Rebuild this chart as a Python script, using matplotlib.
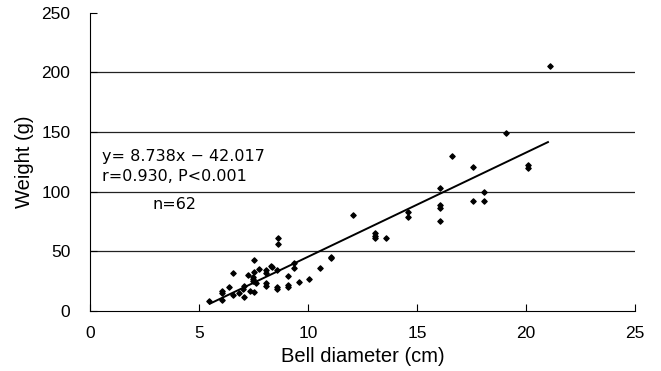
import numpy as np
from matplotlib import pyplot as plt

# bell diameter (cm) and weight (g)
diameter = [5.46, 6.06, 6.06, 6.06, 6.36, 6.55, 6.55, 6.82, 7.0, 7.05, 7.05,
            7.26, 7.35, 7.46, 7.46, 7.5, 7.54, 7.54, 7.54, 7.6, 7.77,
            8.07, 8.07, 8.07, 8.07, 8.3, 8.35, 8.58, 8.58, 8.58, 8.61, 8.61,
            9.07, 9.07, 9.07, 9.37, 9.37, 9.57, 10.06, 10.56, 11.06, 11.06,
            12.08, 13.07, 13.07, 13.07, 13.58, 14.57, 14.57,
            16.07, 16.07, 16.07, 16.07, 16.59, 17.58, 17.58, 18.06, 18.09,
            19.08, 20.08, 20.08, 21.1]
weight = [8, 9, 17, 15, 20, 32, 13, 15, 18, 21, 12,
          30, 17, 25, 27, 28, 43, 33, 16, 23, 35,
          34, 32, 23, 21, 38, 37, 34, 20, 18, 61, 56,
          29, 22, 20, 40, 36, 24, 27, 36, 45.5, 44,
          80, 65, 63, 61, 61, 83, 79,
          103, 89, 86, 75.5, 130, 121, 92, 100, 92,
          149, 122, 120, 205]

slope, intercept = 8.738, -42.017
fit_x = np.array([5.5, 21.0])

plt.rcParams['font.family'] = ['Liberation Sans', 'DejaVu Sans']

fig = plt.figure(figsize=(6.61, 3.71), dpi=100)
ax = fig.add_axes([0.136, 0.162, 0.825, 0.804])

for g in [50, 100, 150, 200]:
    ax.axhline(g, color="#222222", lw=0.9, zorder=1)

ax.scatter(diameter, weight, marker="D", s=7, color="black", zorder=3)
ax.plot(fit_x, slope * fit_x + intercept, color="black", lw=1.4, zorder=2)

# annotation text is wide in the original, DejaVu gets closest
note = dict(fontsize=11.5, family="DejaVu Sans", va="center")
ax.text(0.55, 129.5, "y= 8.738x − 42.017", **note)
ax.text(0.55, 113, "r=0.930, P<0.001", **note)
ax.text(2.85, 89, "n=62", **note)

ax.set_xlim(0, 25)
ax.set_ylim(0, 250)
ax.set_xticks([0, 5, 10, 15, 20, 25])
ax.set_yticks([0, 50, 100, 150, 200, 250])
ax.spines["top"].set_visible(False)
ax.spines["right"].set_visible(False)
ax.tick_params(axis="both", direction="in", length=5, labelsize=12.5)
ax.tick_params(axis="x", pad=11)
ax.tick_params(axis="y", pad=14)
ax.set_xlabel("Bell diameter (cm)", size=14.5, labelpad=4)
ax.set_ylabel("Weight (g)", size=14.5, labelpad=5)

fig.savefig("out.png", dpi=100)
